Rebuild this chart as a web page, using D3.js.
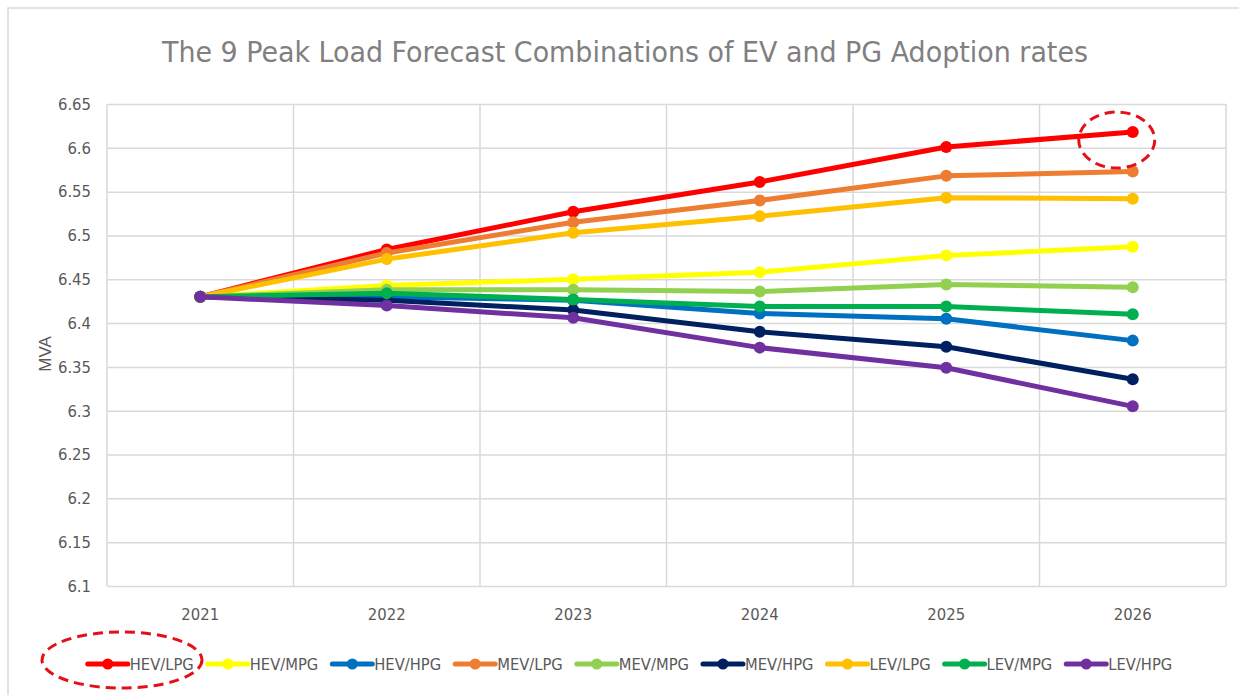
<!DOCTYPE html>
<html>
<head>
<meta charset="utf-8">
<script src="https://cdn.jsdelivr.net/npm/d3@7"></script>
<style>
  html, body { margin: 0; padding: 0; background: #fff; }
  svg { display: block; }
</style>
</head>
<body>
<svg id="chart" width="1239" height="695"></svg>
<script>
// Forecast years
const years = ["2021", "2022", "2023", "2024", "2025", "2026"];

// Peak load (MVA) per EV / PG adoption combination
const hevLpg = [6.430, 6.484, 6.527, 6.561, 6.601, 6.618];
const hevMpg = [6.430, 6.443, 6.450, 6.458, 6.477, 6.487];
const hevHpg = [6.430, 6.430, 6.426, 6.411, 6.405, 6.380];
const mevLpg = [6.430, 6.480, 6.515, 6.540, 6.568, 6.573];
const mevMpg = [6.430, 6.438, 6.438, 6.436, 6.444, 6.441];
const mevHpg = [6.430, 6.426, 6.415, 6.390, 6.373, 6.336];
const levLpg = [6.430, 6.473, 6.503, 6.522, 6.543, 6.542];
const levMpg = [6.430, 6.434, 6.427, 6.419, 6.419, 6.410];
const levHpg = [6.430, 6.420, 6.406, 6.372, 6.349, 6.305];

const seriesNames = ["HEV/LPG", "HEV/MPG", "HEV/HPG", "MEV/LPG", "MEV/MPG", "MEV/HPG", "LEV/LPG", "LEV/MPG", "LEV/HPG"];
const seriesValues = [hevLpg, hevMpg, hevHpg, mevLpg, mevMpg, mevHpg, levLpg, levMpg, levHpg];
const seriesColors = ["#FF0000", "#FFFF00", "#0070C0", "#ED7D31", "#92D050", "#002060", "#FFC000", "#00B050", "#7030A0"];

const yTicks = [6.1, 6.15, 6.2, 6.25, 6.3, 6.35, 6.4, 6.45, 6.5, 6.55, 6.6, 6.65];

const title = "The 9 Peak Load Forecast Combinations of EV and PG Adoption rates";

const svg = d3.select("#chart");
const narrow = "'Liberation Sans Narrow', 'DejaVu Sans Condensed', 'Liberation Sans', sans-serif";
const gridColor = "#d9d9d9";
const textColor = "#595959";

// Chart frame
svg.append("rect")
  .attr("x", 8).attr("y", 8)
  .attr("width", 1260).attr("height", 720)
  .attr("fill", "#fff")
  .attr("stroke", gridColor).attr("stroke-width", 1.5);

// Plot area
const plot = { left: 107, right: 1226, top: 104, bottom: 586 };

const x = d3.scaleBand().domain(years).range([plot.left, plot.right]).paddingInner(0).paddingOuter(0);
const y = d3.scaleLinear().domain([6.1, 6.65]).range([plot.bottom, plot.top]);
const cx = d => x(d) + x.bandwidth() / 2;

// Title
svg.append("text")
  .attr("x", 625).attr("y", 62)
  .attr("text-anchor", "middle")
  .attr("font-family", narrow)
  .attr("font-size", 29)
  .attr("fill", "#808080")
  .attr("textLength", 926)
  .attr("lengthAdjust", "spacingAndGlyphs")
  .text(title);

// Horizontal gridlines + y tick labels
const yAxis = d3.axisLeft(y).tickValues(yTicks)
  .tickSize(-(plot.right - plot.left))
  .tickPadding(16)
  .tickFormat(d => d3.format("")(+d.toFixed(2)));
const gy = svg.append("g").attr("transform", `translate(${plot.left},0)`).call(yAxis);
gy.select(".domain").remove();
gy.selectAll(".tick line").attr("stroke", gridColor).attr("stroke-width", 1.5);
gy.selectAll(".tick text")
  .attr("font-family", narrow).attr("font-size", 16.5).attr("fill", textColor);

// Vertical gridlines at category boundaries
const bounds = years.map(d => x(d)).concat([plot.right]);
svg.append("g").selectAll("line").data(bounds).join("line")
  .attr("x1", d => d).attr("x2", d => d)
  .attr("y1", plot.top).attr("y2", plot.bottom)
  .attr("stroke", gridColor).attr("stroke-width", 1.5);

// X axis labels
const xAxis = d3.axisBottom(x).tickSize(0).tickPadding(22);
const gx = svg.append("g").attr("transform", `translate(0,${plot.bottom})`).call(xAxis);
gx.select(".domain").remove();
gx.selectAll(".tick text")
  .attr("font-family", narrow).attr("font-size", 16.5).attr("fill", textColor);

// Y axis title
svg.append("text")
  .attr("transform", "translate(51,354) rotate(-90)")
  .attr("text-anchor", "middle")
  .attr("font-family", "'Liberation Sans', Arial, sans-serif")
  .attr("font-size", 17)
  .attr("fill", textColor)
  .text("MVA");

// Series lines and markers
const line = d3.line().x((d, i) => cx(years[i])).y(d => y(d));
seriesValues.forEach((vals, k) => {
  const g = svg.append("g");
  g.append("path")
    .attr("d", line(vals))
    .attr("fill", "none")
    .attr("stroke", seriesColors[k])
    .attr("stroke-width", 5)
    .attr("stroke-linejoin", "round")
    .attr("stroke-linecap", "round");
  g.selectAll("circle").data(vals).join("circle")
    .attr("cx", (d, i) => cx(years[i]))
    .attr("cy", d => y(d))
    .attr("r", 6)
    .attr("fill", seriesColors[k]);
});

// Legend
const legend = svg.append("g");
const items = legend.selectAll("g").data(seriesNames).join("g");
items.append("line")
  .attr("x1", 0).attr("x2", 40).attr("y1", 0).attr("y2", 0)
  .attr("stroke", (d, i) => seriesColors[i])
  .attr("stroke-width", 5)
  .attr("stroke-linecap", "round");
items.append("circle")
  .attr("cx", 20).attr("cy", 0).attr("r", 5.5)
  .attr("fill", (d, i) => seriesColors[i]);
items.append("text")
  .attr("x", 42).attr("y", 6)
  .attr("font-family", narrow).attr("font-size", 16.4)
  .attr("fill", textColor)
  .text(d => d);

let cursor = 0;
items.each(function () {
  const w = d3.select(this).select("text").node().getComputedTextLength();
  d3.select(this).attr("transform", `translate(${cursor},0)`);
  cursor += 42 + w + 14;
});
const legendWidth = cursor - 14;
legend.attr("transform", `translate(${630 - legendWidth / 2},664)`);

// Highlight rings: highest 2026 forecast and its legend entry
const ring = { stroke: "#E3101A", width: 3, dash: "10 6" };
svg.append("ellipse")
  .attr("cx", cx("2026") - 16).attr("cy", y(hevLpg[5]) + 8)
  .attr("rx", 38).attr("ry", 28)
  .attr("fill", "none")
  .attr("stroke", ring.stroke).attr("stroke-width", ring.width)
  .attr("stroke-dasharray", ring.dash);
svg.append("ellipse")
  .attr("cx", 122).attr("cy", 660)
  .attr("rx", 80).attr("ry", 28)
  .attr("fill", "none")
  .attr("stroke", ring.stroke).attr("stroke-width", ring.width)
  .attr("stroke-dasharray", ring.dash);
</script>
</body>
</html>
